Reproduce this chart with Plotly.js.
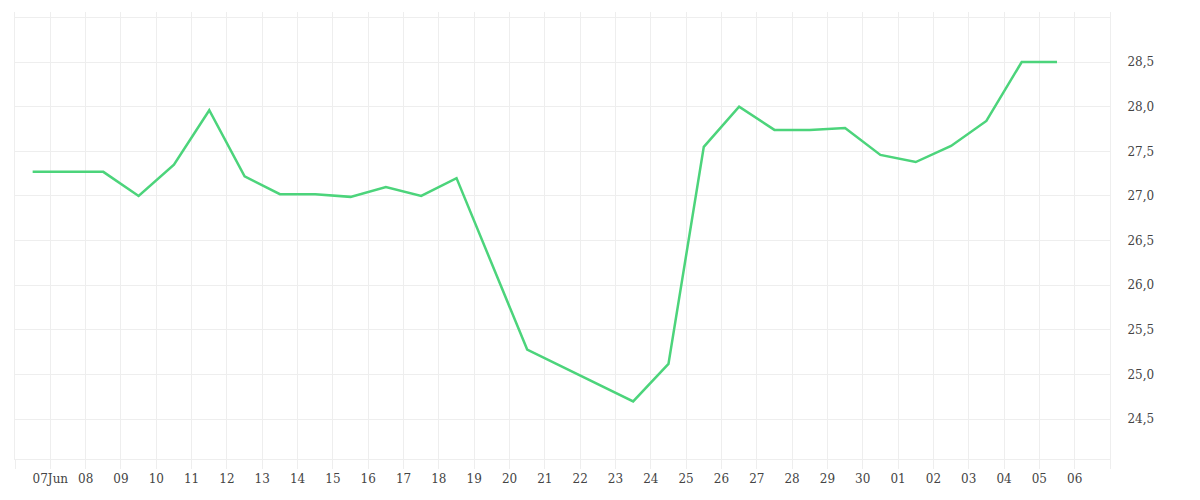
<!DOCTYPE html>
<html>
<head>
<meta charset="utf-8">
<script src="https://cdn.plot.ly/plotly-3.0.1.min.js"></script>
<style>
  html, body { margin: 0; padding: 0; background: #fff; }
  #chart { width: 1200px; height: 500px; }
</style>
</head>
<body>
<div id="chart"></div>
<script>
// daily readings, taken at midday
const dates = [
  '2023-06-06 12:00', '2023-06-07 12:00', '2023-06-08 12:00', '2023-06-09 12:00',
  '2023-06-10 12:00', '2023-06-11 12:00', '2023-06-12 12:00', '2023-06-13 12:00',
  '2023-06-14 12:00', '2023-06-15 12:00', '2023-06-16 12:00', '2023-06-17 12:00',
  '2023-06-18 12:00', '2023-06-20 12:00', '2023-06-23 12:00', '2023-06-24 12:00',
  '2023-06-25 12:00', '2023-06-26 12:00', '2023-06-27 12:00', '2023-06-28 12:00',
  '2023-06-29 12:00', '2023-06-30 12:00', '2023-07-01 12:00', '2023-07-02 12:00',
  '2023-07-03 12:00', '2023-07-04 12:00', '2023-07-05 12:00'
];
const values = [
  27.27, 27.27, 27.27, 27.00,
  27.35, 27.96, 27.22, 27.02,
  27.02, 26.99, 27.10, 27.00,
  27.20, 25.28, 24.70, 25.12,
  27.55, 28.00, 27.74, 27.74,
  27.76, 27.46, 27.38, 27.56,
  27.84, 28.50, 28.50
];

// one tick per day, only the inner ones carry a label
const tickDates = [
  '2023-06-06', '2023-06-07', '2023-06-08', '2023-06-09', '2023-06-10', '2023-06-11',
  '2023-06-12', '2023-06-13', '2023-06-14', '2023-06-15', '2023-06-16', '2023-06-17',
  '2023-06-18', '2023-06-19', '2023-06-20', '2023-06-21', '2023-06-22', '2023-06-23',
  '2023-06-24', '2023-06-25', '2023-06-26', '2023-06-27', '2023-06-28', '2023-06-29',
  '2023-06-30', '2023-07-01', '2023-07-02', '2023-07-03', '2023-07-04', '2023-07-05',
  '2023-07-06', '2023-07-07'
];
const tickLabels = [
  '', '07Jun', '08', '09', '10', '11',
  '12', '13', '14', '15', '16', '17',
  '18', '19', '20', '21', '22', '23',
  '24', '25', '26', '27', '28', '29',
  '30', '01', '02', '03', '04', '05',
  '06', ''
];
const yTicks = [24.5, 25.0, 25.5, 26.0, 26.5, 27.0, 27.5, 28.0, 28.5];

const gridColor = '#eeeeee';
const font = { family: 'DejaVu Serif, serif', size: 12, color: '#444' };

let trace = {
  x: dates,
  y: values,
  type: 'scatter',
  mode: 'lines',
  line: { color: '#4cd47b', width: 2.5 },
  hoverinfo: 'x+y',
};

let layout = {
  width: 1200,
  height: 500,
  margin: { l: 15, r: 90, t: 12, b: 41 },
  paper_bgcolor: '#fff',
  plot_bgcolor: '#fff',
  separators: ',.',
  showlegend: false,
  font: font,
  xaxis: {
    type: 'date',
    range: ['2023-06-06', '2023-07-07'],
    tickvals: tickDates,
    ticktext: tickLabels,
    showgrid: true,
    gridcolor: gridColor,
    gridwidth: 1,
    ticks: 'outside',
    ticklen: 9,
    tickcolor: gridColor,
    tickwidth: 1,
    showline: true,
    linecolor: gridColor,
    linewidth: 1,
    zeroline: false,
    tickfont: font,
  },
  yaxis: {
    side: 'right',
    range: [24.055, 29.06],
    tickvals: yTicks,
    tickformat: '.1f',
    showgrid: true,
    gridcolor: gridColor,
    gridwidth: 1,
    minor: { dtick: 0.5, tick0: 0, showgrid: true, gridcolor: gridColor, gridwidth: 1 },
    ticks: '',
    ticklabelstandoff: 14,
    showline: true,
    mirror: true,
    linecolor: gridColor,
    linewidth: 1,
    zeroline: false,
    tickfont: font,
  },
};

Plotly.newPlot('chart', [trace], layout, { displayModeBar: false, staticPlot: true });
</script>
</body>
</html>
